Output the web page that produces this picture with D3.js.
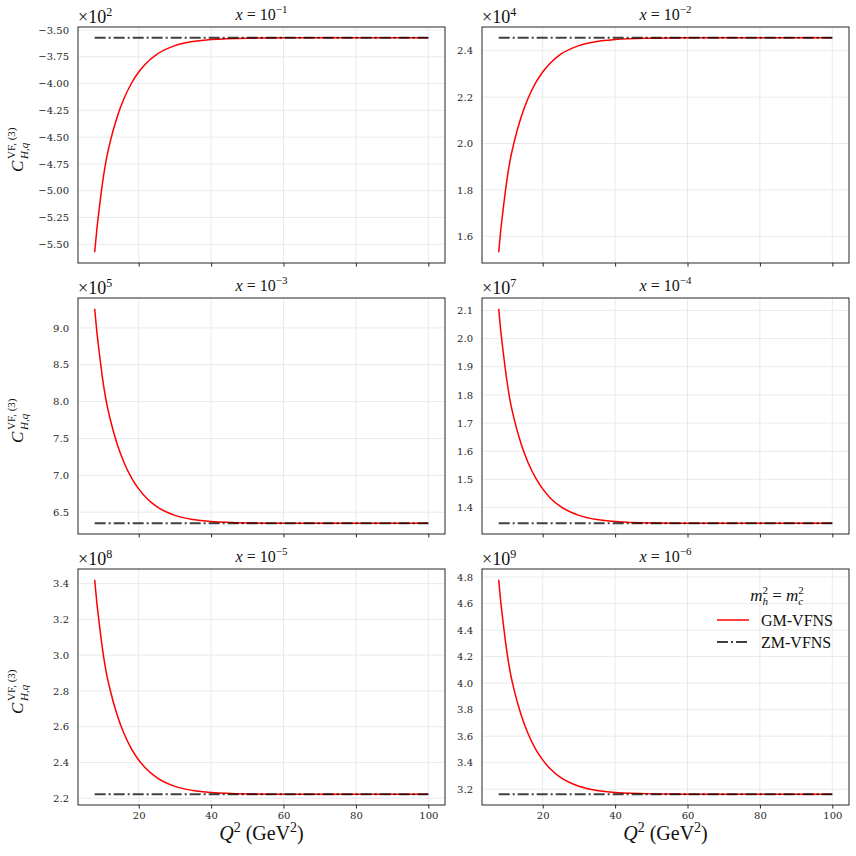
<!DOCTYPE html>
<html>
<head>
<meta charset="utf-8">
<title>GM-VFNS vs ZM-VFNS</title>
<script src="https://d3js.org/d3.v7.min.js"></script>
<style>
	body { margin: 0; background: #fff; }
	.tick text { font: 10px "DejaVu Serif", serif; fill: #262626; }
	.tick line { stroke: #262626; }
	.math { font-family: "Liberation Serif", "DejaVu Serif", serif; fill: #111; }
	.grid line { stroke: #eaeaea; stroke-width: 1; }
</style>
</head>
<body>
<div id="chart"></div>
<script>
// Q^2 sample points (GeV^2)
var q2 = [7.84, 8.4, 9, 10, 11, 12, 14, 16, 18, 20, 22, 25, 30, 35, 40, 50, 60, 80, 100];

// GM-VFNS, in units of the panel offset (x10^n)
var gm1 = [-5.575, -5.373, -5.196, -4.928, -4.716, -4.561, -4.317, -4.135, -3.997, -3.892, -3.812, -3.727, -3.646, -3.607, -3.588, -3.576, -3.573, -3.572, -3.572];
var gm2 = [1.531, 1.624, 1.706, 1.830, 1.928, 1.999, 2.112, 2.196, 2.260, 2.308, 2.345, 2.385, 2.422, 2.440, 2.448, 2.454, 2.456, 2.456, 2.456];
var gm3 = [9.26, 8.966, 8.710, 8.320, 8.012, 7.788, 7.433, 7.168, 6.967, 6.816, 6.699, 6.575, 6.457, 6.401, 6.374, 6.355, 6.351, 6.35, 6.35];
var gm4 = [2.106, 2.029, 1.962, 1.860, 1.779, 1.720, 1.627, 1.558, 1.506, 1.466, 1.435, 1.403, 1.372, 1.357, 1.350, 1.345, 1.344, 1.344, 1.344];
var gm5 = [3.422, 3.301, 3.195, 3.034, 2.907, 2.815, 2.668, 2.559, 2.476, 2.414, 2.366, 2.315, 2.266, 2.243, 2.232, 2.224, 2.222, 2.222, 2.222];
var gm6 = [4.780, 4.617, 4.474, 4.257, 4.086, 3.961, 3.764, 3.617, 3.505, 3.421, 3.356, 3.287, 3.222, 3.190, 3.175, 3.165, 3.163, 3.162, 3.162];

// ZM-VFNS (flat)
var zm = [-3.572, 2.456, 6.35, 1.344, 2.222, 3.162];

var xPowers = ["\u22121", "\u22122", "\u22123", "\u22124", "\u22125", "\u22126"];
var offsetPowers = ["2", "4", "5", "7", "8", "9"];

var xTicks = [20, 40, 60, 80, 100];
var yTicks1 = [-5.5, -5.25, -5.0, -4.75, -4.5, -4.25, -4.0, -3.75, -3.5];
var yTicks2 = [1.6, 1.8, 2.0, 2.2, 2.4];
var yTicks3 = [6.5, 7.0, 7.5, 8.0, 8.5, 9.0];
var yTicks4 = [1.4, 1.5, 1.6, 1.7, 1.8, 1.9, 2.0, 2.1];
var yTicks5 = [2.2, 2.4, 2.6, 2.8, 3.0, 3.2, 3.4];
var yTicks6 = [3.2, 3.4, 3.6, 3.8, 4.0, 4.2, 4.4, 4.6, 4.8];

var panels = [
	{gm: gm1, zm: zm[0], power: xPowers[0], offset: offsetPowers[0], ticks: yTicks1, fmt: ".2f"},
	{gm: gm2, zm: zm[1], power: xPowers[1], offset: offsetPowers[1], ticks: yTicks2, fmt: ".1f"},
	{gm: gm3, zm: zm[2], power: xPowers[2], offset: offsetPowers[2], ticks: yTicks3, fmt: ".1f"},
	{gm: gm4, zm: zm[3], power: xPowers[3], offset: offsetPowers[3], ticks: yTicks4, fmt: ".1f"},
	{gm: gm5, zm: zm[4], power: xPowers[4], offset: offsetPowers[4], ticks: yTicks5, fmt: ".1f"},
	{gm: gm6, zm: zm[5], power: xPowers[5], offset: offsetPowers[5], ticks: yTicks6, fmt: ".1f"}
];

var W = 856, H = 856;
var colsLeft = [78, 482], rowsTop = [27, 298, 569];
var pw = 367, ph = 236;

var svg = d3.select("#chart").append("svg")
	.attr("width", W)
	.attr("height", H);

// same 5% margins as the data range
var xExt = d3.extent(q2), xPad = (xExt[1] - xExt[0]) * 0.05;

panels.forEach(function(p, i) {
	var col = i % 2, row = Math.floor(i / 2);
	var left = colsLeft[col], top = rowsTop[row];
	var bottomRow = row === 2;

	var yExt = d3.extent(p.gm.concat([p.zm])), yPad = (yExt[1] - yExt[0]) * 0.05;

	var x = d3.scaleLinear().domain([xExt[0] - xPad, xExt[1] + xPad]).range([0, pw]);
	var y = d3.scaleLinear().domain([yExt[0] - yPad, yExt[1] + yPad]).range([ph, 0]);

	var g = svg.append("g").attr("transform", "translate(" + left + "," + top + ")");

	// grid
	var grid = g.append("g").attr("class", "grid");
	grid.selectAll(".gx").data(xTicks).enter().append("line")
		.attr("x1", function(d) { return x(d); })
		.attr("x2", function(d) { return x(d); })
		.attr("y1", 0).attr("y2", ph);
	grid.selectAll(".gy").data(p.ticks).enter().append("line")
		.attr("y1", function(d) { return y(d); })
		.attr("y2", function(d) { return y(d); })
		.attr("x1", 0).attr("x2", pw);

	var line = d3.line()
		.x(function(d) { return x(d[0]); })
		.y(function(d) { return y(d[1]); })
		.curve(d3.curveMonotoneX);

	g.append("path")
		.datum(q2.map(function(q, k) { return [q, p.gm[k]]; }))
		.attr("d", line)
		.attr("fill", "none")
		.attr("stroke", "#ff0000")
		.attr("stroke-width", 1.5);

	g.append("path")
		.datum([[xExt[0], p.zm], [xExt[1], p.zm]])
		.attr("d", line)
		.attr("fill", "none")
		.attr("stroke", "rgba(0,0,0,0.75)")
		.attr("stroke-width", 1.8)
		.attr("stroke-dasharray", "11,3,2,3");

	// frame
	g.append("rect")
		.attr("width", pw).attr("height", ph)
		.attr("fill", "none")
		.attr("stroke", "#262626")
		.attr("stroke-width", 1);

	var xAxis = g.append("g")
		.attr("transform", "translate(0," + ph + ")")
		.call(d3.axisBottom(x).tickValues(xTicks)
			.tickSizeInner(3.5).tickSizeOuter(0).tickPadding(3.5)
			.tickFormat(function(d) { return bottomRow ? d : ""; }));
	xAxis.select(".domain").remove();

	var yAxis = g.append("g")
		.call(d3.axisLeft(y).tickValues(p.ticks)
			.tickSizeInner(0).tickSizeOuter(0).tickPadding(9)
			.tickFormat(d3.format(p.fmt)));
	yAxis.select(".domain").remove();

	// title x = 10^n
	var title = svg.append("text").attr("class", "math")
		.attr("x", left + pw / 2).attr("y", top - 7)
		.attr("text-anchor", "middle")
		.style("font-size", "16px");
	title.append("tspan").style("font-style", "italic").text("x");
	title.append("tspan").text(" = 10");
	title.append("tspan").attr("dy", -7).style("font-size", "11px").text(p.power);

	// offset text x10^n
	var off = svg.append("text").attr("class", "math")
		.attr("x", left).attr("y", top - 4)
		.style("font-size", "18px");
	off.append("tspan").text("\u00d710");
	off.append("tspan").attr("dy", -7).style("font-size", "12px").text(p.offset);

	// y label on the left column
	if (col === 0) {
		var yl = svg.append("g").attr("class", "math")
			.attr("transform", "translate(0," + (top + ph / 2) + ") rotate(-90)");
		yl.append("text").attr("x", -27).attr("y", 23)
			.style("font-size", "17px").style("font-style", "italic").text("C");
		yl.append("text").attr("x", -14).attr("y", 15)
			.style("font-size", "11px").text("VF, (3)");
		var sub = yl.append("text").attr("x", -14).attr("y", 28)
			.style("font-size", "11px");
		sub.append("tspan").style("font-style", "italic").text("H");
		sub.append("tspan").text(",");
		sub.append("tspan").style("font-style", "italic").text("q");
	}

	// x label on the bottom row
	if (bottomRow) {
		var xl = svg.append("text").attr("class", "math")
			.attr("x", left + pw / 2).attr("y", 840)
			.attr("text-anchor", "middle")
			.style("font-size", "20px");
		xl.append("tspan").style("font-style", "italic").text("Q");
		xl.append("tspan").attr("dy", -8).style("font-size", "14px").text("2");
		xl.append("tspan").attr("dy", 8).text(" (GeV");
		xl.append("tspan").attr("dy", -8).style("font-size", "14px").text("2");
		xl.append("tspan").attr("dy", 8).text(")");
	}
});

// legend in the last panel
var lg = svg.append("g").attr("class", "math");
var lt = lg.append("text").attr("x", 777).attr("y", 601)
	.attr("text-anchor", "middle").style("font-size", "17px");
lt.append("tspan").style("font-style", "italic").text("m");
lt.append("tspan").attr("dy", -7).style("font-size", "11px").text("2");
lt.append("tspan").attr("dx", -5.5).attr("dy", 11).style("font-size", "11px").style("font-style", "italic").text("h");
lt.append("tspan").attr("dy", -4).text(" = ");
lt.append("tspan").style("font-style", "italic").text("m");
lt.append("tspan").attr("dy", -7).style("font-size", "11px").text("2");
lt.append("tspan").attr("dx", -5.5).attr("dy", 11).style("font-size", "11px").style("font-style", "italic").text("c");

var entries = [
	{label: "GM-VFNS", color: "#ff0000", dash: null, width: 1.5},
	{label: "ZM-VFNS", color: "rgba(0,0,0,0.75)", dash: "11,3,2,3", width: 1.8}
];
entries.forEach(function(e, k) {
	var yy = 620 + k * 22;
	lg.append("line")
		.attr("x1", 717).attr("x2", 749)
		.attr("y1", yy).attr("y2", yy)
		.attr("stroke", e.color)
		.attr("stroke-width", e.width)
		.attr("stroke-dasharray", e.dash);
	lg.append("text").attr("x", 761).attr("y", yy + 5.5)
		.style("font-size", "16px").text(e.label);
});
</script>
</body>
</html>
